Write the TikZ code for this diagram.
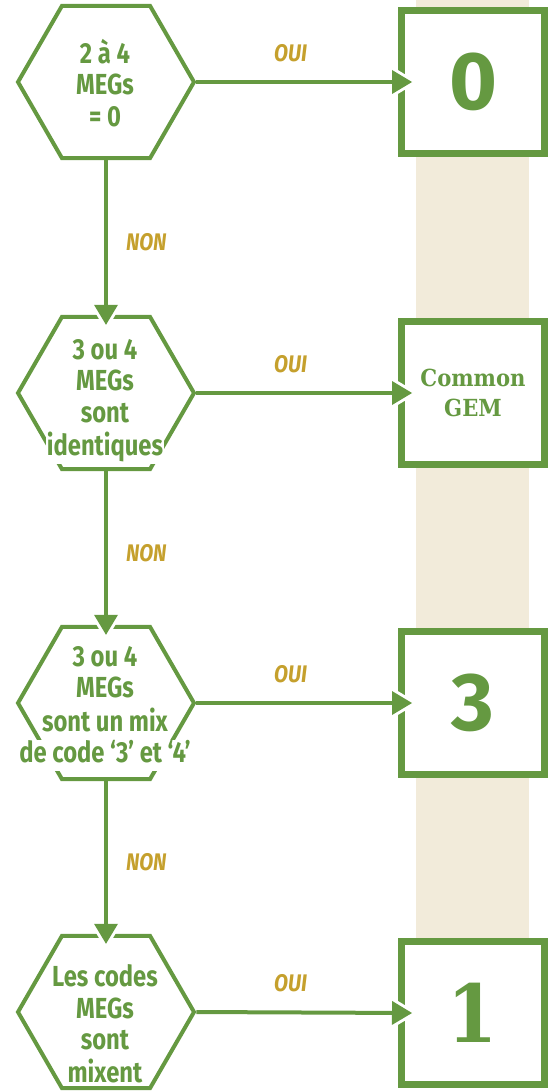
\documentclass[tikz,border=0pt]{standalone}
\usepackage{fontspec}
\usetikzlibrary{shapes.geometric,arrows.meta}
\newfontfamily\hexf[FakeStretch=0.82]{Fira Sans}
\newfontfamily\lblf[FakeStretch=0.85]{Fira Sans}
\newfontfamily\bigf{Fira Sans}
\newfontfamily\slabf[FakeStretch=0.9]{DejaVu Serif}
\definecolor{grn}{RGB}{101,153,65}
\definecolor{gld}{RGB}{197,160,45}
\definecolor{bge}{RGB}{242,235,218}
\setlength{\fboxsep}{1pt}
\newcommand\wl[1]{\colorbox{white}{\rule[-7pt]{0pt}{29pt}#1}}
\newcommand\nl[1]{\rule[-8pt]{0pt}{31pt}#1}
\tikzset{
  hex/.style={regular polygon, regular polygon sides=6, minimum size=176pt, draw=grn, line width=4pt, inner sep=0pt},
  hextext/.style={text=grn, align=center, inner sep=0pt, font=\hexf\bfseries\fontsize{29}{31.5}\selectfont},
  res/.style={rectangle, draw=grn, fill=white, line width=7pt, minimum width=143pt, minimum height=143pt, inner sep=0pt, text=grn},
  digit/.style={font=\bigf\bfseries\fontsize{82}{82}\selectfont},
  lbl/.style={text=gld, inner sep=0pt, font=\lblf\bfseries\itshape\fontsize{24}{24}\selectfont},
  halo/.style={white, line width=0.1pt, shorten >=-5.8pt, -{Triangle[length=28.8pt, width=34.6pt, line width=0pt]}},
  conn/.style={grn, line width=4pt, -{Triangle[length=20pt, width=24pt, line width=0pt]}},
}
\begin{document}
\begin{tikzpicture}[x=1pt,y=1pt]
\useasboundingbox (0,0) rectangle (549,-1091);
\fill[bge] (416,0) rectangle (529,-1000);
% hexagons
\node[hex] (h1) at (106,-82) {};
\node[hex] (h2) at (106,-393) {};
\node[hex] (h3) at (106,-703) {};
\node[hex] (h4) at (106,-1012) {};
\node[hextext] (t1) at (105,-86) {\wl{2 à 4}\\\wl{MEGs}\\\wl{= 0}};
\node[hextext] (t2) at (105,-400) {\wl{3 ou 4}\\\wl{MEGs}\\\wl{sont}\\\wl{identiques}};
\node[hextext] (t3) at (105,-707) {\wl{3 ou 4}\\\wl{MEGs}\\\wl{sont un mix}\\\wl{de code ‘3’ et ‘4’}};
\node[hextext] (t4) at (105,-1027) {\wl{Les codes}\\\wl{MEGs}\\\wl{sont}\\\nl{mixent}};
% result boxes
\node[res, digit] (b1) at (473,-82) {0};
\node[res, align=center, font=\slabf\bfseries\fontsize{23.5}{30}\selectfont] (b2) at (473,-393) {Common\\GEM};
\node[res, digit] (b3) at (473,-703) {3};
\node[res, font=\slabf\bfseries\fontsize{80}{80}\selectfont] (b4) at (473,-1013) {1};
% halos
\draw[halo] (h1.east) -- ([xshift=14pt]b1.west);
\draw[halo] (h2.east) -- ([xshift=14pt]b2.west);
\draw[halo] (h3.east) -- ([xshift=14pt]b3.west);
\draw[halo] (h4.east) -- ([xshift=14pt]b4.west);
\draw[halo] (h1.south) -- ([yshift=-10pt]h2.north);
\draw[halo] (h2.south) -- ([yshift=-10pt]h3.north);
\draw[halo] (h3.south) -- ([yshift=-10pt]h4.north);
% connectors
\draw[conn] (h1.east) -- node[lbl, pos=0.437, above=18.5pt] (o1) {OUI} ([xshift=14pt]b1.west);
\draw[conn] (h2.east) -- node[lbl, pos=0.437, above=18.5pt] (o2) {OUI} ([xshift=14pt]b2.west);
\draw[conn] (h3.east) -- node[lbl, pos=0.437, above=18.5pt] (o3) {OUI} ([xshift=14pt]b3.west);
\draw[conn] (h4.east) -- node[lbl, pos=0.437, above=18.5pt] (o4) {OUI} ([xshift=14pt]b4.west);
\draw[conn] (h1.south) -- node[lbl, midway, right=18pt] (n1) {NON} ([yshift=-10pt]h2.north);
\draw[conn] (h2.south) -- node[lbl, midway, right=18pt] (n2) {NON} ([yshift=-10pt]h3.north);
\draw[conn] (h3.south) -- node[lbl, midway, right=18pt] (n3) {NON} ([yshift=-10pt]h4.north);
\end{tikzpicture}
\end{document}
